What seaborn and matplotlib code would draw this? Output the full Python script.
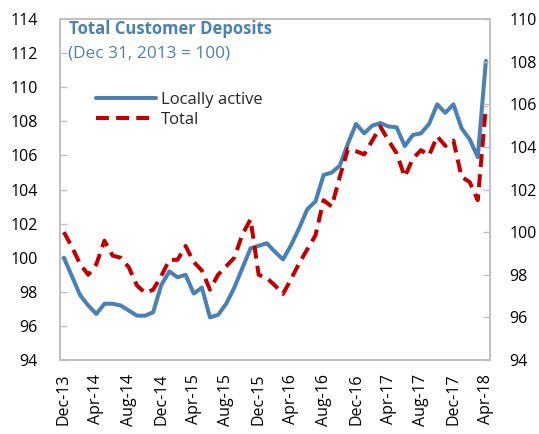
import matplotlib
matplotlib.use("Agg")
import matplotlib.pyplot as plt
import seaborn as sns
import numpy as np
import pandas as pd

# monthly index, Dec-13 .. Apr-18
months = pd.date_range("2013-12-01", "2018-04-01", freq="MS")
locally_active = [100.0, 98.9, 97.8, 97.2, 96.7, 97.3, 97.3, 97.2, 96.9, 96.6,
                  96.6, 96.8, 98.4, 99.2, 98.85, 99.0, 97.9, 98.25, 96.5, 96.65,
                  97.3, 98.25, 99.4, 100.55, 100.7, 100.85, 100.35, 99.9, 100.75, 101.75,
                  102.85, 103.3, 104.85, 105.0, 105.4, 106.7, 107.85, 107.3, 107.75, 107.9,
                  107.7, 107.65, 106.55, 107.2, 107.3, 107.85, 109.0, 108.5, 109.0, 107.6,
                  106.95, 105.9, 111.55]
total = [100.0, 99.3, 98.5, 98.0, 98.5, 99.6, 98.9, 98.8, 98.35, 97.5,
         97.15, 97.3, 97.95, 98.7, 98.7, 99.35, 98.6, 98.2, 97.3, 98.0,
         98.4, 98.8, 99.9, 100.6, 98.0, 97.85, 97.5, 97.1, 97.8, 98.55,
         99.2, 99.85, 101.5, 101.2, 102.6, 103.9, 103.8, 103.65, 104.3, 104.95,
         104.3, 103.7, 102.6, 103.45, 103.85, 103.6, 104.5, 104.05, 104.3, 102.6,
         102.35, 101.5, 105.9]
tick_labels = [m.strftime("%b-%y") for m in months[::4]]

df = pd.DataFrame({"i": np.arange(len(months)), "Locally active": locally_active, "Total": total})

sns.set_style("white")
plt.rcParams["font.family"] = ["Open Sans", "DejaVu Sans"]

blue = "#4A80B2"
red = "#C00000"
frame = "#BFBFBF"

fig = plt.figure(figsize=(5.39, 4.34), dpi=100)
ax = fig.add_axes([0.111, 0.1705, 0.798, 0.7855])
ax2 = ax.twinx()

sns.lineplot(data=df, x="i", y="Locally active", ax=ax, color=blue, lw=2.9, label="Locally active", legend=False)
sns.lineplot(data=df, x="i", y="Total", ax=ax2, color=red, lw=2.9, label="Total", legend=False)
ax2.lines[0].set_dashes([3.2, 1.8])

ax.set_xlim(-0.5, len(months) - 0.5)
ax.set_ylim(94, 114)
ax2.set_ylim(94, 110)
ax.set_yticks(np.arange(94, 115, 2))
ax2.set_yticks(np.arange(94, 111, 2))
ax.set_xticks(np.arange(0, len(months), 4))
ax.set_xticklabels(tick_labels, rotation=90)
ax.set_xticks(np.arange(-0.5, len(months), 4), minor=True)
ax.set_xlabel("")
ax.set_ylabel("")
ax2.set_ylabel("")

for a in (ax, ax2):
    for s in a.spines.values():
        s.set_color(frame)
        s.set_linewidth(1.2)
ax.tick_params(axis="x", which="major", length=0, pad=10, labelsize=11.5, colors="black")
ax.tick_params(axis="x", which="minor", direction="in", length=5, color=frame, width=1)
ax.tick_params(axis="y", direction="in", length=5, color=frame, width=1, labelsize=11.5, pad=16, labelcolor="black")
ax2.tick_params(axis="y", direction="in", length=5, color=frame, width=1, labelsize=11.5, pad=14, labelcolor="black")

ax.text(0.022, 0.972, "Total Customer Deposits", transform=ax.transAxes, fontsize=12,
        fontweight="bold", color=blue, va="center", ha="left")
ax.text(0.02, 0.90, "(Dec 31, 2013 = 100)", transform=ax.transAxes, fontsize=12.4,
        color=blue, va="center", ha="left")

h1, l1 = ax.get_legend_handles_labels()
h2, l2 = ax2.get_legend_handles_labels()
ax.legend(h1 + h2, l1 + l2, loc="upper left", bbox_to_anchor=(0.05, 0.83), frameon=False,
          fontsize=12, handlelength=3.6, handletextpad=0.25, labelspacing=0.25)

fig.savefig("out.png", dpi=100)
